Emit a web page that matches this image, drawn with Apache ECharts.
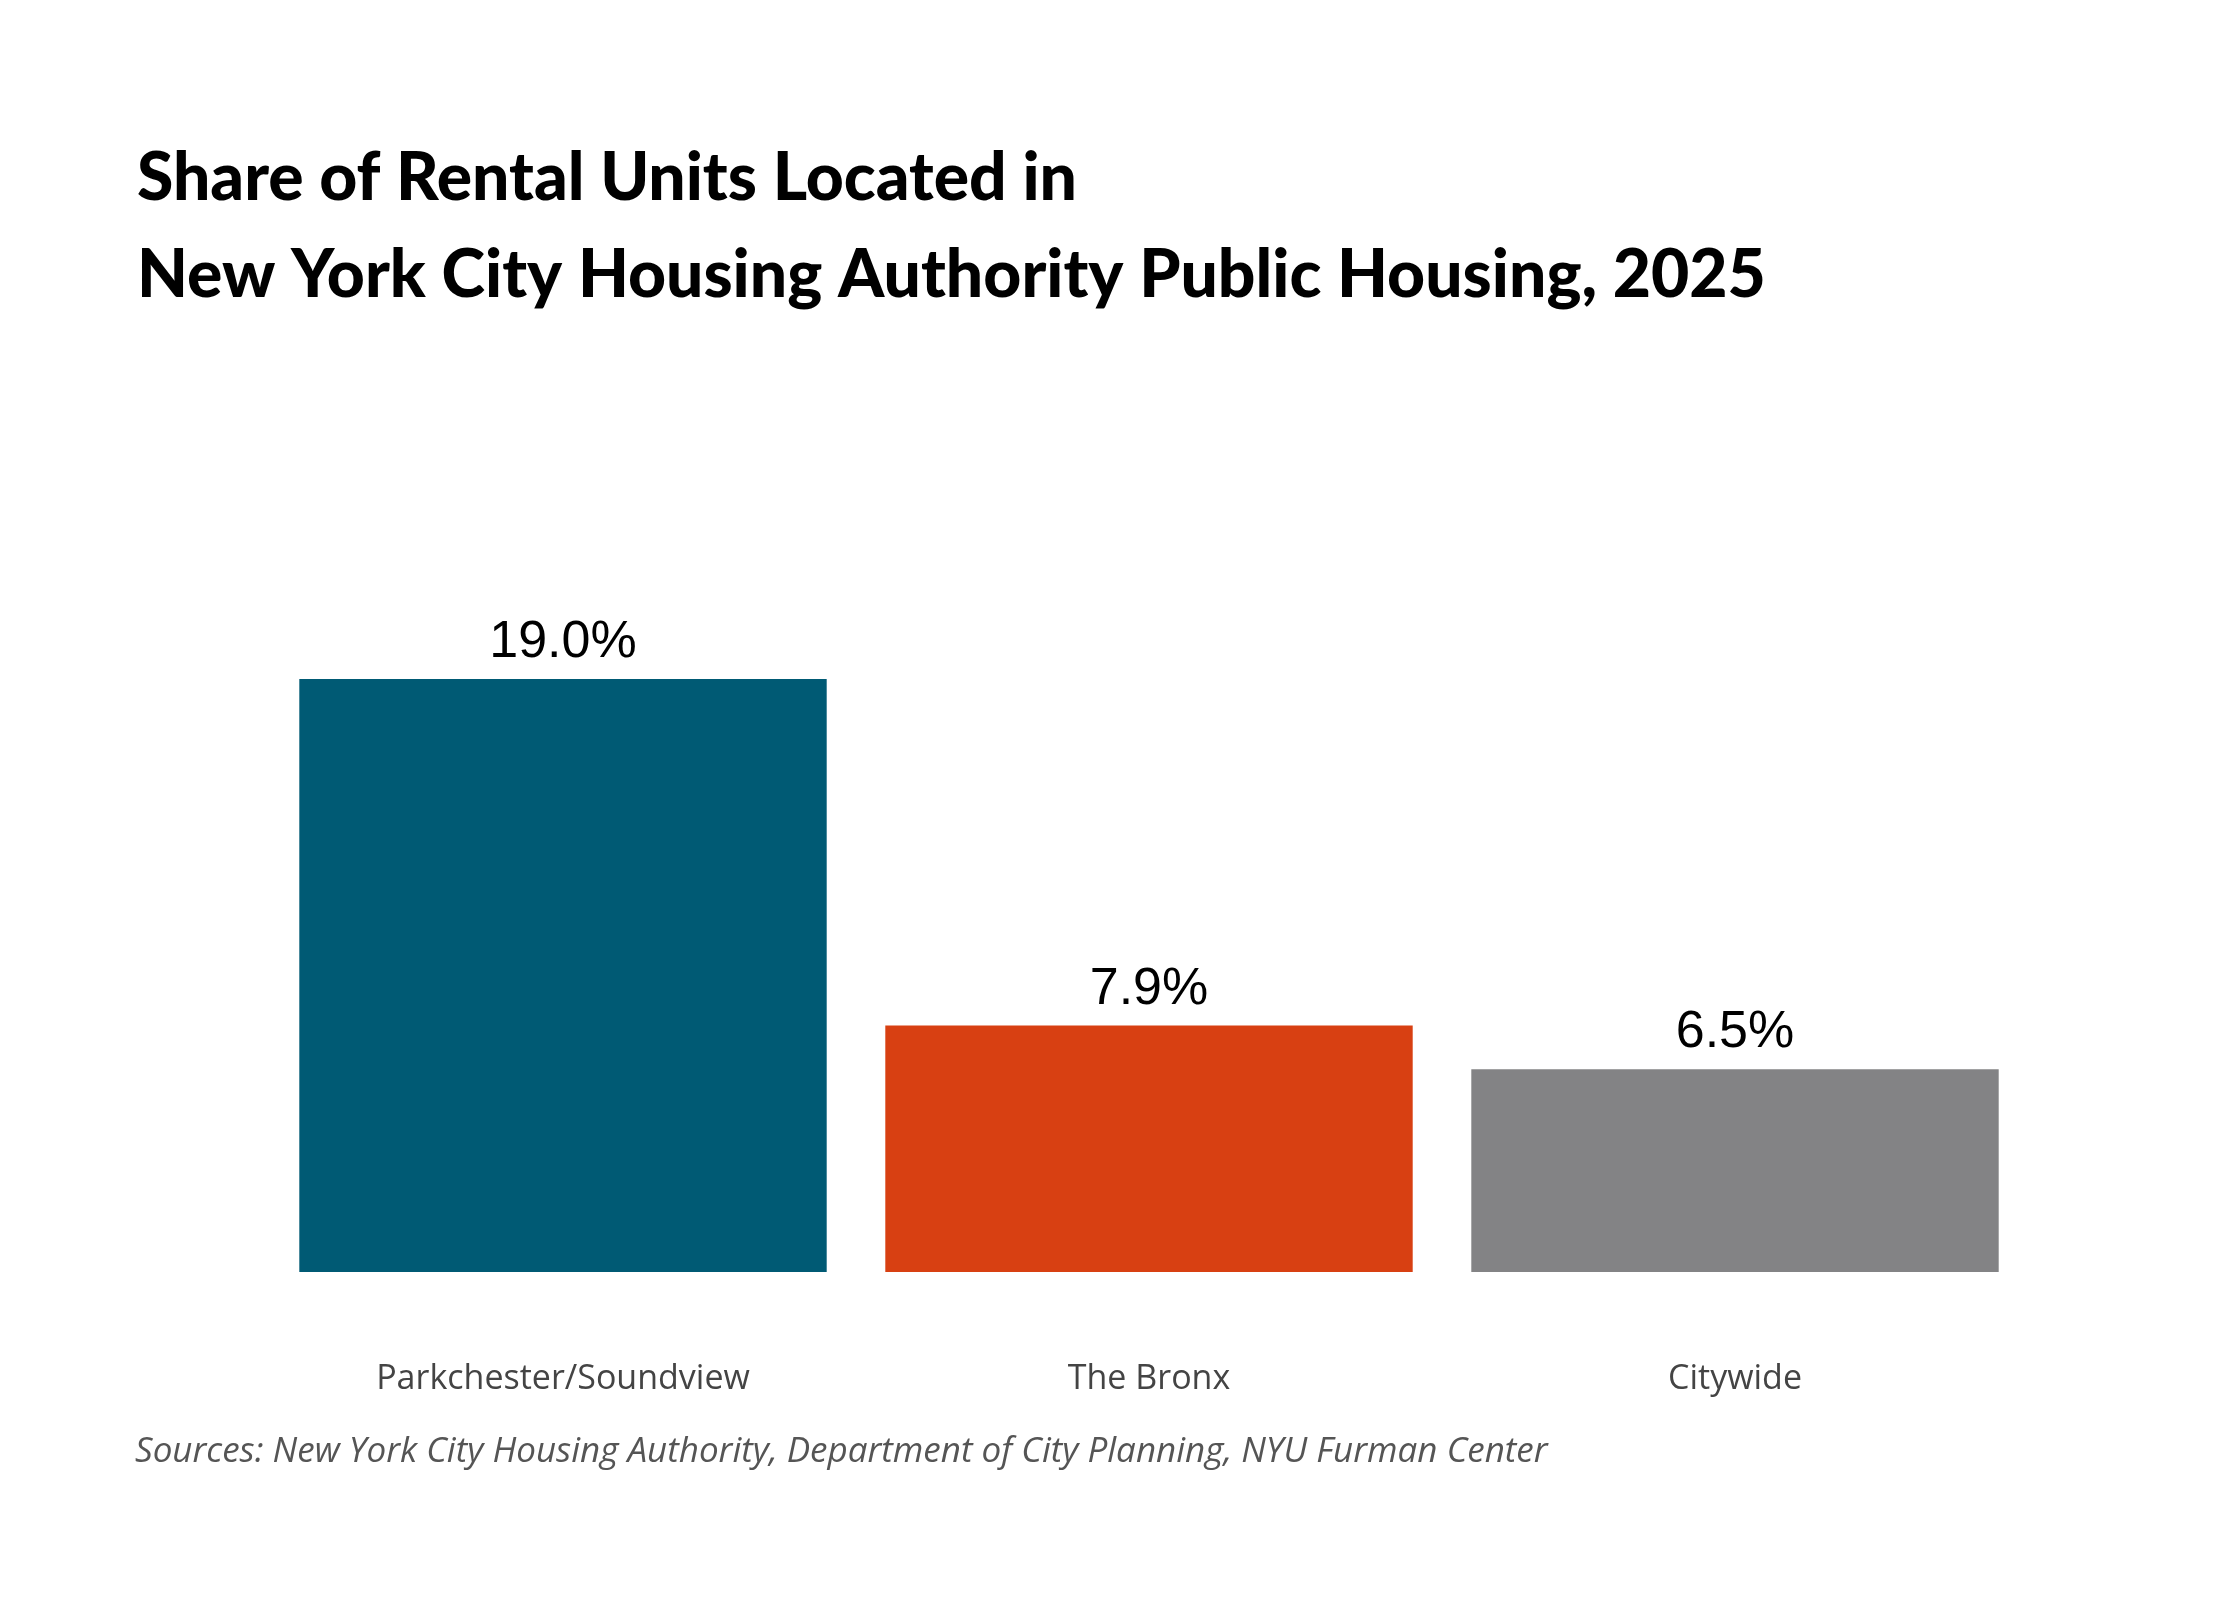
<!DOCTYPE html>
<html>
<head>
<meta charset="utf-8">
<script src="https://cdn.jsdelivr.net/npm/echarts@6/dist/echarts.min.js"></script>
<style>html,body{margin:0;padding:0;background:#fff}</style>
</head>
<body>
<div id="main" style="width:2240px;height:1600px;"></div>
<script>
    var categories = ['Parkchester/Soundview', 'The Bronx', 'Citywide'];
    var values = [19.0, 7.9, 6.5];
    var colors = ['#005a74', '#d84012', '#838385'];

    var myChart = echarts.init(document.getElementById('main'));
    var option = {
        backgroundColor: '#FFFFFF',
        animation: false,
        title: {
            text: 'Share of Rental Units Located in\nNew York City Housing Authority Public Housing, 2025',
            left: 132,
            top: 125,
            textStyle: {fontFamily: 'Lato', fontWeight: 900, fontSize: 66, lineHeight: 97, color: '#000'}
        },
        graphic: [{
            type: 'text',
            left: 135,
            top: 1435,
            style: {
                text: 'Sources: New York City Housing Authority, Department of City Planning, NYU Furman Center',
                font: 'italic 35px "Open Sans"',
                fill: '#555555'
            }
        }],
        grid: {left: 270, right: 212, top: 679, bottom: 328},
        xAxis: {
            type: 'category',
            data: categories,
            axisLine: {show: false},
            axisTick: {show: false},
            axisLabel: {margin: 90, fontFamily: 'Open Sans', fontSize: 34, color: '#444444'}
        },
        yAxis: {
            type: 'value', min: 0, max: 19,
            show: false, splitLine: {show: false}
        },
        series: [{
            type: 'bar',
            barCategoryGap: '10%',
            data: values.map(function (v, i) {
                return {value: v, itemStyle: {color: colors[i]}};
            }),
            label: {
                show: true, position: 'top', distance: 10,
                formatter: function (p) { return p.value.toFixed(1) + '%'; },
                fontFamily: 'Liberation Sans', fontSize: 52, color: '#000'
            }
        }]
    };
    myChart.setOption(option);
</script>
</body>
</html>
